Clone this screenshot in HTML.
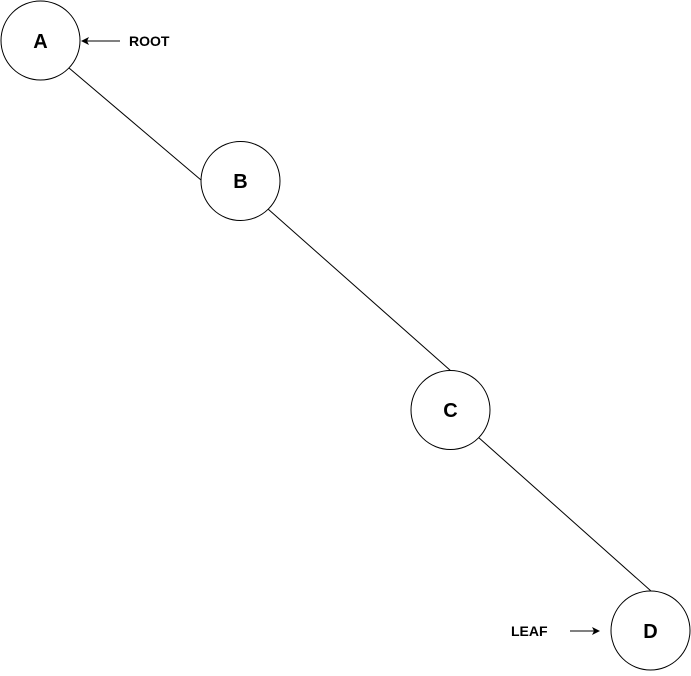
<!DOCTYPE html>
<html><head><style>body{margin:0;background:#fff}</style></head><body>
<svg width="691" height="671" xmlns="http://www.w3.org/2000/svg" font-family="Liberation Sans, sans-serif" font-weight="bold">
<g stroke="#000" stroke-width="1" fill="none">
<line x1="69" y1="68" x2="201" y2="180"/>
<line x1="268" y1="209" x2="451" y2="371"/>
<line x1="478" y1="437" x2="651" y2="591"/>
<circle cx="40.5" cy="40.5" r="39.5" fill="#fff"/>
<circle cx="240.5" cy="181" r="39.5" fill="#fff"/>
<circle cx="450.5" cy="410" r="39.5" fill="#fff"/>
<circle cx="650.5" cy="630.5" r="39.5" fill="#fff"/>
<line x1="120" y1="41" x2="86" y2="41"/>
<line x1="570" y1="631" x2="594" y2="631"/>
</g>
<path d="M81,41 L89,37 L87,41 L89,45 Z" fill="#000"/>
<path d="M600,631 L592,627 L594,631 L592,635 Z" fill="#000"/>
<g font-size="20" text-anchor="middle">
<text x="40.5" y="48">A</text>
<text x="240.5" y="188">B</text>
<text x="450.5" y="417">C</text>
<text x="650.5" y="638">D</text>
</g>
<text x="129" y="46" font-size="14">ROOT</text>
<text x="511" y="636" font-size="14">LEAF</text>
</svg>
</body></html>
